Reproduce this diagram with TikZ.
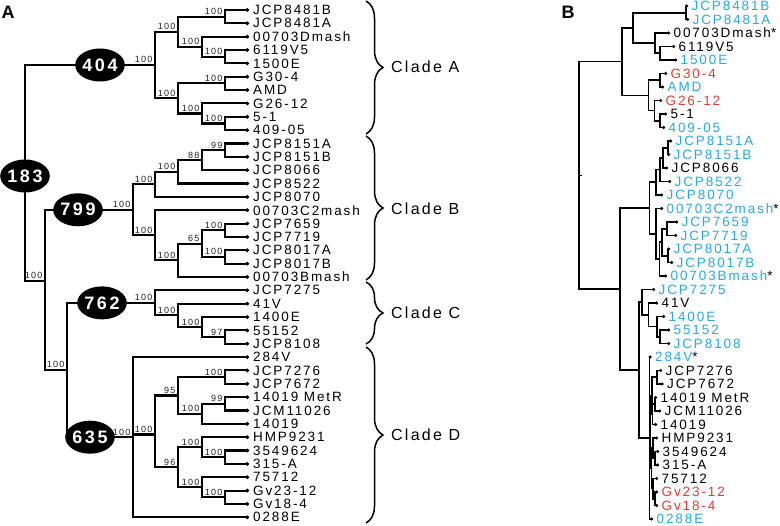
\documentclass[tikz,border=0pt]{standalone}
\usepackage{fontspec}
\setmainfont{Liberation Sans}[LetterSpace=14]
\usetikzlibrary{shapes.geometric,decorations.pathreplacing,arrows.meta}
\definecolor{cb}{HTML}{29A9E1}
\definecolor{cr}{HTML}{E53B35}
\definecolor{bsg}{HTML}{222222}
\tikzset{
  br/.style={line width=2.1pt},
  brb/.style={line width=1.6pt},
  leafA/.style={anchor=west,inner sep=0pt,xshift=4pt,font=\fontsize{13.5}{14}\selectfont},
  leafB/.style={anchor=west,inner sep=0pt,xshift=3.5pt,font=\fontsize{13.5}{14}\selectfont},
  bsl/.style={anchor=south east,inner sep=0.8pt,xshift=-1.5pt,yshift=1pt,text=bsg,font=\fontsize{9}{9}\selectfont},
  ell/.style={ellipse,fill=black,text=white,inner sep=0pt,minimum width=41pt,minimum height=33pt,font=\bfseries\fontsize{18}{18}\selectfont},
  bracestyle/.style={line width=1.5pt,decorate,decoration={brace,amplitude=17pt}},
  cladelab/.style={anchor=west,inner sep=0pt,font=\fontsize{16}{16}\selectfont},
  panel/.style={inner sep=0pt,font=\bfseries\fontsize{18}{18}\selectfont}
}
\newcommand\ed[2]{\draw[br] (#1) |- (#2);}
\newcommand\lf[2]{\draw[br,-{Circle[length=3.4pt]}] (#1) |- (#2);}
\newcommand\edB[2]{\draw[brb] (#1) |- (#2);}
\newcommand\lfB[2]{\draw[brb,-{Circle[length=2.8pt]}] (#1) |- (#2);}
\newcommand\bsv[2]{\node[bsl] (bs-#1) at (#1) {#2};}
\begin{document}
\begin{tikzpicture}[x=1pt,y=-1pt]
\useasboundingbox (0,0) rectangle (780,526);
\node[panel] (pA) at (8,12.5) {A};
\node[panel] (pB) at (568,12.5) {B};
% ---------- Panel A leaves
\foreach \i/\t in {0/JCP8481B,1/JCP8481A,2/00703Dmash,3/6119V5,4/1500E,5/G30-4,6/AMD,7/G26-12,8/5-1,9/409-05,10/JCP8151A,11/JCP8151B,12/JCP8066,13/JCP8522,14/JCP8070,15/00703C2mash,16/JCP7659,17/JCP7719,18/JCP8017A,19/JCP8017B,20/00703Bmash,21/JCP7275,22/41V,23/1400E,24/55152,25/JCP8108,26/284V,27/JCP7276,28/JCP7672,29/14019 MetR,30/JCM11026,31/14019,32/HMP9231,33/3549624,34/315-A,35/75712,36/Gv23-12,37/Gv18-4,38/0288E}
{ \coordinate (LA\i) at (249,{10+13.35*\i}); \node[leafA] (tA\i) at (LA\i) {\t}; }
% internal nodes A
\coordinate (p01) at (225,16.7);
\coordinate (p34) at (225,56.7);
\coordinate (a3) at (202,46.7);
\coordinate (a2) at (178,31.7);
\coordinate (p56) at (225,83.4);
\coordinate (p89) at (225,123.5);
\coordinate (a5) at (202,113.5);
\coordinate (a4) at (178,98.4);
\coordinate (a1) at (155,65);
\coordinate (p1011) at (225,150.2);
\coordinate (b4) at (202,160.2);
\coordinate (b3) at (178,171.9);
\coordinate (b2) at (155,184.4);
\coordinate (p1617) at (225,230.3);
\coordinate (p1819) at (225,257);
\coordinate (b7) at (202,243.6);
\coordinate (b6) at (178,260.3);
\coordinate (b5) at (155,235.3);
\coordinate (b1) at (133,209.8);
\coordinate (p2425) at (225,337.1);
\coordinate (c3) at (202,327.1);
\coordinate (c2) at (178,315.4);
\coordinate (c1) at (155,302.9);
\coordinate (p2728) at (225,377.1);
\coordinate (p2930) at (225,403.8);
\coordinate (d4) at (202,413.8);
\coordinate (d3) at (178,395.5);
\coordinate (p3334) at (225,457.2);
\coordinate (d7) at (202,447.2);
\coordinate (p3637) at (225,497.3);
\coordinate (d8) at (202,487.3);
\coordinate (d6) at (178,467.2);
\coordinate (d2) at (155,434.5);
\coordinate (d1) at (133,437.2);
\coordinate (cd) at (67,370);
\coordinate (bcd) at (45,281);
\coordinate (rt) at (25,173);
% edges A
\lf{p01}{LA0}\lf{p01}{LA1}\lf{p34}{LA3}\lf{p34}{LA4}\lf{a3}{LA2}\ed{a3}{p34}\ed{a2}{p01}\ed{a2}{a3}
\lf{p56}{LA5}\lf{p56}{LA6}\lf{p89}{LA8}\lf{p89}{LA9}\lf{a5}{LA7}\ed{a5}{p89}\ed{a4}{p56}\ed{a4}{a5}\ed{a1}{a2}\ed{a1}{a4}
\lf{p1011}{LA10}\lf{p1011}{LA11}\ed{b4}{p1011}\lf{b4}{LA12}\ed{b3}{b4}\lf{b3}{LA13}\ed{b2}{b3}\lf{b2}{LA14}
\lf{p1617}{LA16}\lf{p1617}{LA17}\lf{p1819}{LA18}\lf{p1819}{LA19}\ed{b7}{p1617}\ed{b7}{p1819}\ed{b6}{b7}\lf{b6}{LA20}\lf{b5}{LA15}\ed{b5}{b6}\ed{b1}{b2}\ed{b1}{b5}
\lf{p2425}{LA24}\lf{p2425}{LA25}\lf{c3}{LA23}\ed{c3}{p2425}\lf{c2}{LA22}\ed{c2}{c3}\lf{c1}{LA21}\ed{c1}{c2}
\lf{p2728}{LA27}\lf{p2728}{LA28}\lf{p2930}{LA29}\lf{p2930}{LA30}\ed{d4}{p2930}\lf{d4}{LA31}\ed{d3}{p2728}\ed{d3}{d4}
\lf{p3334}{LA33}\lf{p3334}{LA34}\lf{d7}{LA32}\ed{d7}{p3334}\lf{p3637}{LA36}\lf{p3637}{LA37}\lf{d8}{LA35}\ed{d8}{p3637}\ed{d6}{d7}\ed{d6}{d8}\ed{d2}{d3}\ed{d2}{d6}
\lf{d1}{LA26}\ed{d1}{d2}\lf{d1}{LA38}
\ed{cd}{c1}\ed{cd}{d1}\ed{bcd}{b1}\ed{bcd}{cd}\ed{rt}{a1}\ed{rt}{bcd}
% bootstrap
\bsv{p01}{100}\bsv{p34}{100}\bsv{a3}{100}\bsv{a2}{100}\bsv{p56}{100}\bsv{p89}{100}\bsv{a5}{100}\bsv{a4}{100}\bsv{a1}{100}
\bsv{p1011}{99}\bsv{b4}{88}\bsv{b3}{100}\bsv{b2}{100}\bsv{p1617}{100}\bsv{p1819}{100}\bsv{b7}{65}\bsv{b6}{100}\bsv{b5}{100}\bsv{b1}{100}
\bsv{p2425}{97}\bsv{c3}{100}\bsv{c2}{100}\bsv{c1}{100}
\bsv{p2728}{100}\bsv{p2930}{99}\bsv{d4}{100}\bsv{d3}{95}\bsv{p3334}{100}\bsv{d7}{100}\bsv{p3637}{100}\bsv{d8}{100}\bsv{d6}{96}\bsv{d2}{100}\bsv{d1}{100}
\bsv{cd}{100}\bsv{bcd}{100}
% ellipses
\node[ell] (e404) at (100,65) {404};
\node[ell] (e183) at (25,176) {183};
\node[ell] (e799) at (78,209.8) {799};
\node[ell] (e762) at (102,302.9) {762};
\node[ell] (e635) at (90,437.2) {635};
% braces
\coordinate (brA1) at (366,1); \coordinate (brA2) at (366,134);
\coordinate (brB1) at (366,136); \coordinate (brB2) at (366,280);
\coordinate (brC1) at (366,282); \coordinate (brC2) at (366,344);
\coordinate (brD1) at (366,347); \coordinate (brD2) at (366,523);
\draw[bracestyle] (brA1) -- (brA2);
\draw[bracestyle] (brB1) -- (brB2);
\draw[bracestyle] (brC1) -- (brC2);
\draw[bracestyle] (brD1) -- (brD2);
\node[cladelab] (clA) at (391,67) {Clade A};
\node[cladelab] (clB) at (391,209) {Clade B};
\node[cladelab] (clC) at (391,313) {Clade C};
\node[cladelab] (clD) at (391,435) {Clade D};
% ---------- Panel B leaves
\foreach \i/\t/\x/\c/\s in {0/JCP8481B/688/cb/0,1/JCP8481A/689/cb/0,2/00703Dmash/670/black/1,3/6119V5/675/black/0,4/1500E/677/cb/0,5/G30-4/667/cr/0,6/AMD/664/cb/0,7/G26-12/662/cr/0,8/5-1/667/black/0,9/409-05/665/cb/0,10/JCP8151A/672/cb/0,11/JCP8151B/670/cb/0,12/JCP8066/668/black/0,13/JCP8522/671/cb/0,14/JCP8070/663/cb/0,15/00703C2mash/663/cb/1,16/JCP7659/678/cb/0,17/JCP7719/677/cb/0,18/JCP8017A/670/cb/0,19/JCP8017B/673/cb/0,20/00703Bmash/667/cb/1,21/JCP7275/655/cb/0,22/41V/658/black/0,23/1400E/665/cb/0,24/55152/670/cb/0,25/JCP8108/670/cb/0,26/284V/651.5/cb/1,27/JCP7276/662/black/0,28/JCP7672/663.5/black/0,29/14019 MetR/657/black/0,30/JCM11026/661/black/0,31/14019/657/black/0,32/HMP9231/658/black/0,33/3549624/659/black/0,34/315-A/659/black/0,35/75712/658/black/0,36/Gv23-12/658/cr/0,37/Gv18-4/658/cr/0,38/0288E/653/cb/0}
{ \coordinate (LB\i) at (\x,{6+13.5*\i}); \node[leafB] (tB\i) at (LB\i) {{\color{\c}\t}\ifnum\s=1 *\fi}; }
\coordinate (pB01) at (686,12.75);
\coordinate (pB34) at (660,53.25);
\coordinate (qA2) at (655,43.1);
\coordinate (qA1) at (632.7,27.9);
\coordinate (pB56) at (660,80.25);
\coordinate (pB89) at (660,120.75);
\coordinate (qA4) at (654.3,110.6);
\coordinate (qA3) at (648.3,95.4);
\coordinate (cA) at (621.7,61.7);
\coordinate (pB1011) at (668,147.75);
\coordinate (qB3) at (662.7,157.9);
\coordinate (qB2) at (660,169.7);
\coordinate (qB1) at (656,182.3);
\coordinate (pB1617) at (666.7,228.75);
\coordinate (pB1819) at (668,255.75);
\coordinate (qB7) at (661.7,242.25);
\coordinate (qB6) at (659.3,259.1);
\coordinate (qB5) at (656,233.8);
\coordinate (qBn) at (649.5,208);
\coordinate (pB2425) at (660,336.75);
\coordinate (qC3) at (656.7,326.6);
\coordinate (qC2) at (648.3,314.8);
\coordinate (qC1) at (641.7,302.2);
\coordinate (pB2728) at (656.7,377.25);
\coordinate (pB2930) at (655,404.25);
\coordinate (qD4) at (652.5,414.4);
\coordinate (qD3) at (652,395.8);
\coordinate (pB3334) at (655,458.25);
\coordinate (qD7) at (653,448.1);
\coordinate (pB3637) at (655,498.75);
\coordinate (qD8) at (653,488.6);
\coordinate (qD6) at (651.5,468.4);
\coordinate (qD2) at (650.5,432.1);
\coordinate (qDn) at (649.3,438);
\coordinate (qCD) at (639,370.1);
\coordinate (qBCD) at (620,289);
\coordinate (rtB) at (579,175.4);
\coordinate (rtBt) at (582,175.4);
\lfB{pB01}{LB0}\lfB{pB01}{LB1}\lfB{pB34}{LB3}\lfB{pB34}{LB4}\lfB{qA2}{LB2}\edB{qA2}{pB34}\edB{qA1}{pB01}\edB{qA1}{qA2}
\lfB{pB56}{LB5}\lfB{pB56}{LB6}\lfB{pB89}{LB8}\lfB{pB89}{LB9}\lfB{qA4}{LB7}\edB{qA4}{pB89}\edB{qA3}{pB56}\edB{qA3}{qA4}\edB{cA}{qA1}\edB{cA}{qA3}
\lfB{pB1011}{LB10}\lfB{pB1011}{LB11}\edB{qB3}{pB1011}\lfB{qB3}{LB12}\edB{qB2}{qB3}\lfB{qB2}{LB13}\edB{qB1}{qB2}\lfB{qB1}{LB14}
\lfB{pB1617}{LB16}\lfB{pB1617}{LB17}\lfB{pB1819}{LB18}\lfB{pB1819}{LB19}\edB{qB7}{pB1617}\edB{qB7}{pB1819}\edB{qB6}{qB7}\lfB{qB6}{LB20}\lfB{qB5}{LB15}\edB{qB5}{qB6}\edB{qBn}{qB1}\edB{qBn}{qB5}
\lfB{pB2425}{LB24}\lfB{pB2425}{LB25}\lfB{qC3}{LB23}\edB{qC3}{pB2425}\lfB{qC2}{LB22}\edB{qC2}{qC3}\lfB{qC1}{LB21}\edB{qC1}{qC2}
\lfB{pB2728}{LB27}\lfB{pB2728}{LB28}\lfB{pB2930}{LB29}\lfB{pB2930}{LB30}\edB{qD4}{pB2930}\lfB{qD4}{LB31}\edB{qD3}{pB2728}\edB{qD3}{qD4}
\lfB{pB3334}{LB33}\lfB{pB3334}{LB34}\lfB{qD7}{LB32}\edB{qD7}{pB3334}\lfB{pB3637}{LB36}\lfB{pB3637}{LB37}\lfB{qD8}{LB35}\edB{qD8}{pB3637}\edB{qD6}{qD7}\edB{qD6}{qD8}\edB{qD2}{qD3}\edB{qD2}{qD6}
\lfB{qDn}{LB26}\edB{qDn}{qD2}\lfB{qDn}{LB38}
\edB{qCD}{qC1}\edB{qCD}{qDn}\edB{qBCD}{qBn}\edB{qBCD}{qCD}\edB{rtB}{cA}\edB{rtB}{qBCD}
\draw[brb] (rtB) -- (rtBt);
\end{tikzpicture}
\end{document}
